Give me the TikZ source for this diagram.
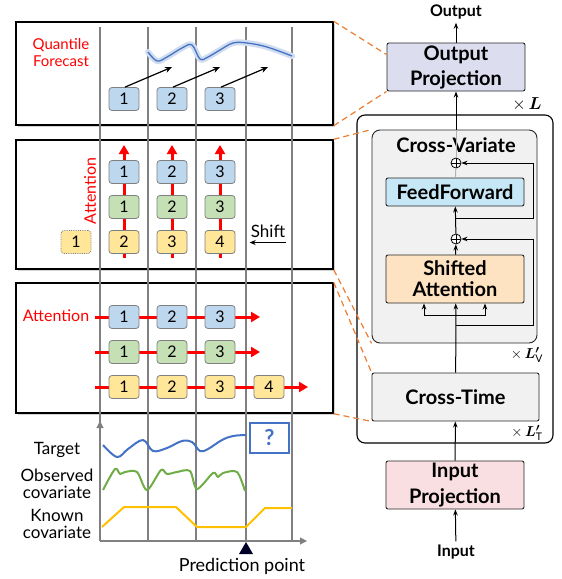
\documentclass[tikz,border=0pt]{standalone}
\usepackage{fontspec}
\setmainfont{Lato}
\usepackage{amsmath}
\usepackage{bm}
\usetikzlibrary{arrows.meta,shadows}

\definecolor{tokblue}{HTML}{BDD7EE}
\definecolor{tokgreen}{HTML}{C5E0B4}
\definecolor{tokyellow}{HTML}{FFE699}
\definecolor{lineblue}{HTML}{4472C4}
\definecolor{linegreen}{HTML}{70AD47}
\definecolor{lineyellow}{HTML}{FFC000}
\definecolor{dashorange}{HTML}{ED7D31}
\definecolor{outprojfill}{HTML}{DCDEF0}
\definecolor{fffill}{HTML}{C6E7F5}
\definecolor{attnfill}{HTML}{FDE3C1}
\definecolor{inprojfill}{HTML}{FADFE2}
\definecolor{crossfill}{HTML}{F1F1F1}

\newcommand{\fsz}[2]{\fontsize{#1}{#2}\selectfont}

\begin{document}
\begin{tikzpicture}[x=1pt, y=-1pt,
    panel/.style={draw=black, line width=1.4pt, fill=white, inner sep=0pt,
        drop shadow={shadow xshift=2pt, shadow yshift=-2pt, opacity=0.35}},
    timeline/.style={draw=gray, line width=1.1pt},
    tok/.style={draw=gray, line width=0.8pt, rounded corners=3pt, minimum width=30pt,
        minimum height=23pt, inner sep=0pt, font=\fsz{16}{16}},
    attn/.style={red, line width=3pt, -{Triangle[length=9pt,width=10pt]}},
    blk/.style={draw=black!85, line width=0.9pt, rounded corners=2pt, align=center,
        inner sep=0pt, minimum width=138pt, minimum height=48pt},
    flow/.style={line width=1pt, -{Stealth[length=6pt,width=4.5pt]}},
    addop/.style={circle, draw, line width=0.8pt, fill=white, inner sep=0pt, minimum size=10pt,
        path picture={\draw (path picture bounding box.north) -- (path picture bounding box.south)
            (path picture bounding box.west) -- (path picture bounding box.east);}},
    tie/.style={dashorange, line width=1.2pt, dash pattern=on 6pt off 4pt},
    curve/.style={line width=2pt, line join=round},
    series/.style={align=center, inner sep=0pt, font=\fsz{17}{17}},
]
    \useasboundingbox (0,0) rectangle (562,579);

    \node[panel, minimum width=317pt, minimum height=103pt] (fcpanel) at (174.5,73.5) {};
    \node[panel, minimum width=317pt, minimum height=129pt] (cvpanel) at (174.5,204.5) {};
    \node[panel, minimum width=317pt, minimum height=130pt] (ctpanel) at (174.5,348) {};

    \draw[timeline] (100,27) -- (100,425);
    \foreach \x in {148,196,246,292}
        \draw[timeline] (\x,27) -- (\x,541);

    % forecast panel
    \node[red, align=center, font=\fsz{15}{17}] (qlabel) at (61,53) {Quantile\\Forecast};
    \draw[line width=6pt, lineblue!25, line cap=round] plot[smooth, tension=0.6] coordinates
        {(148,52) (157,61) (167,57) (182,48) (192,45) (200,59) (208,57) (220,50) (233,43) (247,43) (267,47) (292,56)};
    \draw[lineblue, line width=1.3pt] plot[smooth, tension=0.6] coordinates
        {(148,52) (157,61) (167,57) (182,48) (192,45) (200,59) (208,57) (220,50) (233,43) (247,43) (267,47) (292,56)};
    \foreach \i/\x in {1/124,2/172,3/220} {
        \node[tok, fill=tokblue] (f\i) at (\x,99) {\i};
        \draw[line width=1.2pt, -{Stealth[length=7pt,width=6pt]}] ([xshift=1pt]f\i.north) -- ++(47,-20);
    }

    % cross-variate panel
    \node[red, rotate=90, font=\fsz{16}{16}] (vattn) at (90,191) {Attention};
    \foreach \i/\x in {1/124,2/172,3/220} {
        \draw[attn] (\x,258) -- (\x,145);
        \node[tok, fill=tokblue] (vb\i) at (\x,172) {\i};
        \node[tok, fill=tokgreen] (vg\i) at (\x,207) {\i};
    }
    \foreach \i/\x in {2/124,3/172,4/220}
        \node[tok, fill=tokyellow] (vy\i) at (\x,242) {\i};
    \node[tok, fill=tokyellow, densely dotted] (vy1) at (76,242) {1};
    \node[font=\fsz{17}{17}, inner sep=1pt] (shift) at (268,231) {Shift};
    \draw[line width=1.2pt, -{Stealth[length=6pt,width=5pt]}] ([yshift=-4pt]shift.south east) -- ([yshift=-4pt]shift.south west);

    % cross-time panel
    \node[red, font=\fsz{16}{16}] (tattn) at (56,316) {Attention};
    \draw[attn] (95,317) -- (260,317);
    \draw[attn] (95,352) -- (260,352);
    \draw[attn] (95,387) -- (308,387);
    \foreach \i/\x in {1/124,2/172,3/220} {
        \node[tok, fill=tokblue] (tb\i) at (\x,317) {\i};
        \node[tok, fill=tokgreen] (tg\i) at (\x,352) {\i};
    }
    \foreach \i/\x in {1/124,2/172,3/220,4/269}
        \node[tok, fill=tokyellow] (ty\i) at (\x,387) {\i};

    % input series
    \draw[timeline, -{Triangle[length=7pt,width=7pt]}] (100,541) -- (100,421);
    \draw[timeline, -{Triangle[length=7pt,width=7pt]}] (100,541) -- (307,541);
    \node[series] (target) at (57,450) {Target};
    \node[series] (observed) at (57,484) {Observed\\covariate};
    \node[series] (known) at (57,524) {Known\\covariate};
    \draw[curve, lineblue] plot[smooth, tension=0.6] coordinates
        {(103,445) (117,457) (128,449) (143,440) (153,451) (167,448) (182,441) (192,442) (200,451) (208,449) (222,440) (233,436) (246,435)};
    \draw[curve, linegreen] plot[smooth, tension=0.5] coordinates
        {(103,490) (115,469) (120,474) (125,472) (137,472) (147,490) (161,470) (167,474) (177,472) (190,471) (197,489) (213,473) (218,477) (223,473) (237,472) (245,491)};
    \draw[curve, lineyellow] (102,527) -- (124,507) -- (176,507) -- (197,527) -- (246,527) -- (265,508) -- (292,508);
    \node[draw=lineblue, line width=1.4pt, fill=white, minimum width=39pt, minimum height=30pt,
        text=lineblue, font=\bfseries\fsz{22}{22}] (unknown) at (269.5,438) {?};
    \fill[black!85!blue] (246,542) -- (239,554) -- (253,554) -- cycle;
    \node[font=\fsz{18}{18}] (predpoint) at (242,566) {Prediction point};

    % model
    \node[font=\bfseries\fsz{16}{16}] (output) at (456,12) {Output};
    \node[blk, fill=outprojfill, font=\bfseries\fsz{20}{25}] (outproj) at (456,67) {Output\\Projection};
    \draw[line width=1.1pt, rounded corners=8pt] (357,115) rectangle (553,443);
    \node[font=\fsz{17}{17}] (xl) at (527,104) {$\times\,\bm{L}$};
    \node[draw=black!85, line width=0.9pt, fill=crossfill, rounded corners=8pt, minimum width=165pt,
        minimum height=213pt] (cvbox) at (454.5,236.5) {};
    \node[font=\bfseries\fsz{20}{20}] (cvtitle) at (456,145) {Cross-Variate};
    \node[font=\fsz{15}{15}] (xlv) at (527,355) {$\times\,\bm{L'}_{\mathrm{V}}$};
    \node[addop] (add1) at (456,163) {};
    \node[blk, fill=fffill, minimum height=28pt, font=\bfseries\fsz{20}{20}] (ff) at (455,192) {FeedForward};
    \node[addop] (add2) at (456,239) {};
    \node[blk, fill=attnfill, font=\bfseries\fsz{20}{21}] (sattn) at (455,279) {Shifted\\Attention};
    \node[blk, fill=crossfill, minimum width=167pt, font=\bfseries\fsz{20}{20}] (ctime) at (455.5,397) {Cross-Time};
    \node[font=\fsz{15}{15}] (xlt) at (527,433) {$\times\,\bm{L'}_{\mathrm{T}}$};
    \node[blk, fill=inprojfill, font=\bfseries\fsz{20}{26}] (inproj) at (455,485) {Input\\Projection};
    \node[font=\bfseries\fsz{16}{16}] (input) at (456,552) {Input};

    \coordinate (split) at (456,315);
    \coordinate (res2) at (456,325);
    \coordinate (res1) at (456,218);
    \coordinate (rail) at (533,0);
    \coordinate (cvtop) at (456,130);

    \draw[flow] (input) -- (inproj);
    \draw[flow] (inproj) -- (ctime);
    \draw[line width=1pt] (ctime) -- (split);
    \draw[flow] (split) -- (sattn);
    \draw[flow] (split) -| ([xshift=-31pt]sattn.south);
    \draw[flow] (split) -| ([xshift=30pt]sattn.south);
    \draw[flow] (res2) -- (res2 -| rail) -- (add2 -| rail) -- (add2);
    \draw[flow] (sattn) -- (add2);
    \draw[flow] (add2) -- (ff);
    \draw[flow] (res1) -- (res1 -| rail) -- (add1 -| rail) -- (add1);
    \draw[line width=1pt, gray!60] (ff) -- (add1);
    \draw[flow] (cvtop) -- (outproj);
    \draw[line width=1pt, gray!60] (add1) -- (cvtop);
    \draw[flow] (outproj) -- (output);

    \draw[tie] (fcpanel.north east) -- ([yshift=-12pt]outproj.north west);
    \draw[tie] (fcpanel.south east) -- (outproj.south west);
    \draw[tie] (cvpanel.north east) -- (cvbox.north west);
    \draw[tie] (cvpanel.south east) -- (cvbox.south west);
    \draw[tie] (ctpanel.north east) -- (ctime.north west);
    \draw[tie] (ctpanel.south east) -- (ctime.south west);
\end{tikzpicture}
\end{document}
